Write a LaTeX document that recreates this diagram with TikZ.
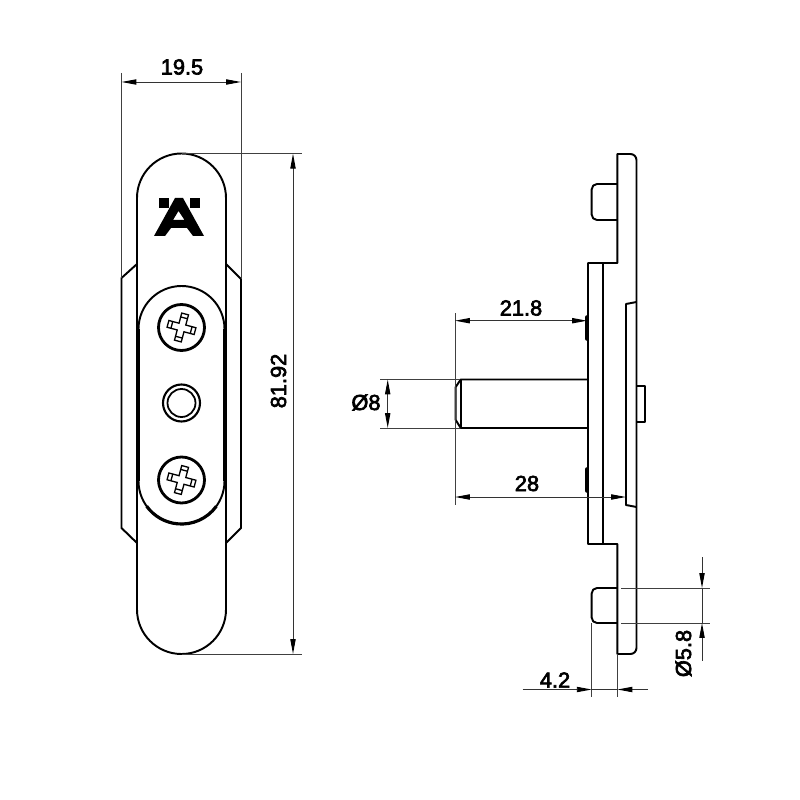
\documentclass[tikz,border=0pt]{standalone}
\usepackage{fontspec}
\newfontfamily\dimfont[FakeBold=3]{Liberation Sans}
\usetikzlibrary{arrows.meta}
\tikzset{
  part/.style={line width=1.1pt, line join=round},
  thickpart/.style={line width=1.8pt},
  extline/.style={line width=0.55pt, black!75},
  dimline/.style={line width=0.55pt, black!80, >={Triangle[length=8.5pt,width=3pt,black]}},
  dimtext/.style={font=\dimfont\fontsize{12.4}{13}\selectfont, inner sep=0pt}
}

\begin{document}
\begin{tikzpicture}[x=0.02cm, y=-0.02cm]
\useasboundingbox (0,0) rectangle (800,800);

\def\xc{181.5}
\def\xpin{455}
\def\xplate{588}
\def\xpeg{591.7}
\def\xback{617.4}
\def\xstrip{626}
\def\xface{636.5}

% front view
\draw[part] (137,264) -- (121.5,278) -- (121.5,528) -- (137,543);
\draw[part] (226,264) -- (241,279) -- (241,528) -- (226,543);
\draw[part] (137,198) arc[start angle=180, end angle=360, radius=44.5]
  -- (226,609.5) arc[start angle=0, end angle=180, radius=44.5] -- cycle;

\draw[part] (138.5,329) arc[start angle=180, end angle=360, radius=43];
\draw[part] (138.5,481) arc[start angle=180, end angle=0, radius=43];
\draw[thickpart] (138.5,329) -- (138.5,481);
\draw[thickpart] (224.5,329) -- (224.5,481);
\draw[thickpart] (216.3,506.3) arc[start angle=36, end angle=144, radius=43];

% logo
\fill (159,198) rectangle (169,208);
\fill (190,198) rectangle (200,208);
\fill[even odd rule] (175,198) -- (183,198) -- (204,236) -- (193,236) -- (187,228)
  -- (171,228) -- (165,236) -- (154,236) -- cycle
  (178.5,211) -- (173,220) -- (184.5,220) -- cycle;

% screws
\foreach \sy in {327.5,480}{
  \draw[line width=1.6pt] (\xc,\sy) circle (23);
  \begin{scope}[shift={(\xc,\sy)}, rotate=-15]
    \draw[line width=0.75pt] (-3.5,-14) -- (3.5,-14) -- (3.5,-3.5) -- (14,-3.5) -- (14,3.5)
      -- (3.5,3.5) -- (3.5,14) -- (-3.5,14) -- (-3.5,3.5) -- (-14,3.5) -- (-14,-3.5)
      -- (-3.5,-3.5) -- cycle;
    \draw[line width=0.75pt] (-3.5,-10) -- (3.5,-10) (10,-3.5) -- (10,3.5)
      (-3.5,10) -- (3.5,10) (-10,-3.5) -- (-10,3.5);
  \end{scope}
}
\draw[line width=1.2pt] (\xc,403) circle (18.5);
\draw[line width=1pt] (\xc,403) circle (14);

% side view
\draw[part] (\xback,154) [rounded corners=3.5pt] -- (\xface,154) -- (\xface,175) [sharp corners]
  -- (\xface,640) [rounded corners=3.5pt] -- (\xface,654) -- (625,654) [sharp corners]
  -- (\xback,654) -- (\xback,544) -- (\xplate,544) -- (\xplate,263) -- (\xback,263) -- cycle;
\draw[part] (603,263) -- (603,544);
\draw[part] (\xface,302) -- (\xstrip,304) -- (\xstrip,505) -- (\xface,507);
\draw[part] (\xface,386) -- (645,386) -- (645,422) -- (\xface,422);

\draw[part] (\xback,184) [rounded corners=3pt] -- (\xpeg,184) -- (\xpeg,220) [sharp corners] -- (\xback,220);
\draw[part] (\xback,588) [rounded corners=3pt] -- (\xpeg,588) -- (\xpeg,623) [sharp corners] -- (\xback,623);

\draw[line width=2pt, line cap=round] (587,317) -- (587,339);
\draw[line width=2pt, line cap=round] (587,469) -- (587,491);

% pin
\draw[part] (\xplate,379.5) -- (460.7,379.5) -- (455.7,387) -- (455.7,420) -- (460.7,428) -- (\xplate,428);
\draw[part] (460.7,379.5) -- (460.7,428);

% extension lines
\draw[extline] (121.5,73) -- (121.5,278);
\draw[extline] (241,73) -- (241,279);
\draw[extline] (\xc,153.7) -- (302,153.7);
\draw[extline] (\xc,654) -- (302,654);
\draw[extline] (\xpin,313) -- (\xpin,505);
\draw[extline] (380,379.5) -- (460,379.5);
\draw[extline] (380,428) -- (460,428);
\draw[extline] (\xpeg,623) -- (\xpeg,697);
\draw[extline] (\xback,654) -- (\xback,697);
\draw[extline] (621,588) -- (710,588);
\draw[extline] (621,623) -- (710,623);

% dimensions
\draw[dimline, <->] (121.5,82) -- (241,82);
\draw[dimline, <->] (293,153.7) -- (293,654);
\draw[dimline, <->] (\xpin,320.7) -- (587,320.7);
\draw[dimline, <->] (\xpin,497) -- (\xstrip,497);
\draw[dimline, <->] (387.7,379.5) -- (387.7,428);
\draw[dimline, ->] (522.7,689.5) -- (\xpeg,689.5);
\draw[dimline, ->] (648,689.5) -- (\xback,689.5);
\draw[dimline] (\xpeg,689.5) -- (\xback,689.5);
\draw[dimline, ->] (702,557) -- (702,588);
\draw[dimline, ->] (702,660.7) -- (702,623);
\draw[dimline] (702,588) -- (702,623);

\node[dimtext] (width) at (182,67) {19.5};
\node[dimtext, rotate=90] (height) at (278.5,381) {81.92};
\node[dimtext] (pinlen) at (521,308) {21.8};
\node[dimtext] (total) at (527,483.5) {28};
\node[dimtext] (pindia) at (366,402.5) {Ø8};
\node[dimtext] (offset) at (555,680) {4.2};
\node[dimtext, rotate=90] (pegdia) at (683.5,653.5) {Ø5.8};

\end{tikzpicture}
\end{document}
